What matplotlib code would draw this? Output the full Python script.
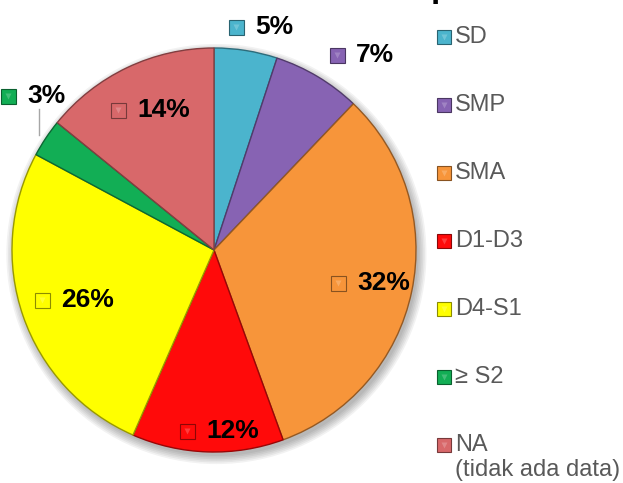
import matplotlib

matplotlib.use("Agg")
import matplotlib.pyplot as plt
from matplotlib.colors import to_rgb
from matplotlib.patches import Circle

plt.rcParams["font.family"] = ["Liberation Sans", "DejaVu Sans"]

# data
categories = ["SD", "SMP", "SMA", "D1-D3", "D4-S1", "\u2265 S2", "NA"]
legend_extra = {"NA": "(tidak ada data)"}
shares = [5, 7, 32, 12, 26, 3, 14]
colors = ["#4BB4CD", "#8763B3", "#F7953A", "#FF0A0A", "#FFFF00", "#12AE55", "#D8686A"]

# layout (pie radius units, centre = 0,0)
LABEL_XY = [
    (0.109, 1.104),
    (0.609, 0.965),
    (0.614, -0.163),
    (-0.134, -0.896),
    (-0.851, -0.248),
    (-1.020, 0.762),
    (-0.475, 0.693),
]
W, H = 623, 483
CX, CY, R = 214, 250, 202


def darker(c, f=0.65):
    r, g, b = to_rgb(c)
    return (r * f, g * f, b * f)


def lighter(c, f=0.45):
    r, g, b = to_rgb(c)
    return (r + (1 - r) * f, g + (1 - g) * f, b + (1 - b) * f)


def bevel_marker(ax, x, y, color, size, **kw):
    ax.plot([x], [y], marker="s", ms=size, mfc=color, mec=darker(color, 0.55),
            mew=0.8, linestyle="none", **kw)
    ax.plot([x], [y], marker="v", ms=size * 0.45, mfc=lighter(color, 0.3),
            mec="none", alpha=0.7, linestyle="none", **kw)


fig = plt.figure(figsize=(W / 100, H / 100), dpi=100)
ax = fig.add_axes([(CX - R) / W, (H - CY - R) / H, 2 * R / W, 2 * R / H])

wedges, _ = ax.pie(
    shares,
    colors=colors,
    startangle=90,
    counterclock=False,
    radius=1.0,
    wedgeprops={"linewidth": 1.0},
)
for w, c in zip(wedges, colors):
    w.set_edgecolor(darker(c, 0.6))
    w.set_zorder(2)
ax.set_xlim(-1, 1)
ax.set_ylim(-1, 1)
ax.set_aspect("equal")
ax.axis("off")

# soft shadow
for k in range(6):
    ax.add_patch(Circle((0.012, -0.02), 1.0 + 0.008 * k, color="black",
                        alpha=0.05, lw=0, zorder=0, clip_on=False))

# leader line for the small slice
ax.plot([-0.866, -0.866], [0.568, 0.70], color="#A6A6A6", lw=1.0,
        clip_on=False, zorder=3)

for (lx, ly), val, c in zip(LABEL_XY, shares, colors):
    bevel_marker(ax, lx, ly, c, 10.8, clip_on=False, zorder=4)
    ax.annotate(f"{val}%", (lx, ly), xytext=(13.7, 0), textcoords="offset points",
                ha="left", va="center", fontsize=19, fontweight="bold",
                color="black", zorder=5, annotation_clip=False)

# legend drawn by hand
lax = fig.add_axes([0, 0, 1, 1])
lax.set_xlim(0, W)
lax.set_ylim(H, 0)
lax.axis("off")
lax.patch.set_alpha(0)
for i, (name, c) in enumerate(zip(categories, colors)):
    y = 37 + i * 68.0
    bevel_marker(lax, 443.5, y, c, 9.4)
    lax.text(455, y, name, ha="left", va="center", fontsize=17, color="#595959")
    if name in legend_extra:
        lax.text(455, y + 25, legend_extra[name], ha="left", va="center",
                 fontsize=17, color="#595959")

# clipped title fragment at the very top
fig.text(431 / W, 1 + 3 / H, "p", ha="left", va="baseline", fontsize=24,
         fontweight="bold", color="black")

fig.savefig("out.png", dpi=100)
